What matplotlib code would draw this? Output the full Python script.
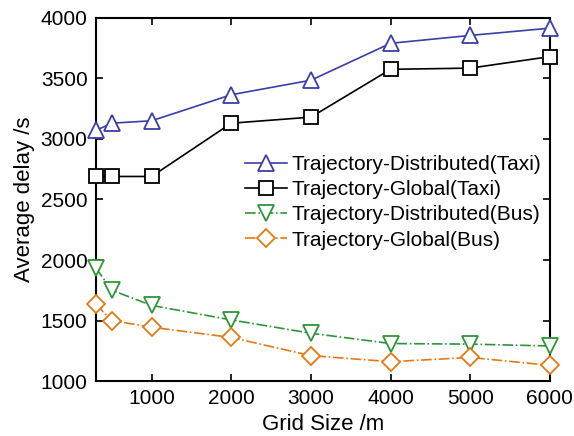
import matplotlib
matplotlib.use("Agg")
import matplotlib.pyplot as plt

# Donnees
grid_size = [300, 500, 1000, 2000, 3000, 4000, 5000, 6000]
dist_taxi = [3070, 3130, 3150, 3365, 3485, 3790, 3855, 3915]
global_taxi = [2690, 2690, 2690, 3130, 3180, 3575, 3585, 3680]
dist_bus = [1935, 1750, 1625, 1505, 1395, 1310, 1305, 1290]
global_bus = [1635, 1500, 1445, 1360, 1210, 1160, 1195, 1130]

x_ticks = [1000, 2000, 3000, 4000, 5000, 6000]
y_ticks = [1000, 1500, 2000, 2500, 3000, 3500, 4000]

plt.rcParams["font.family"] = ["Liberation Sans", "DejaVu Sans"]

fig = plt.figure(figsize=(5.74, 4.36), dpi=100)
ax = fig.add_axes([0.167, 0.126, 0.791, 0.833])

style = dict(mfc="white", mew=1.3, lw=1.2, clip_on=False, zorder=3)
ax.plot(grid_size, dist_taxi, "-", color="#3a3fa6", marker="^", ms=12,
        mec="#3a3fa6", label="Trajectory-Distributed(Taxi)", **style)
ax.plot(grid_size, global_taxi, "-", color="black", marker="s", ms=10,
        mec="black", label="Trajectory-Global(Taxi)", **style)
ax.plot(grid_size, dist_bus, "-.", color="#2e9438", marker="v", ms=12,
        mec="#2e9438", label="Trajectory-Distributed(Bus)", **style)
ax.plot(grid_size, global_bus, "-.", color="#e57a10", marker="D", ms=9,
        mec="#e57a10", label="Trajectory-Global(Bus)", **style)

ax.set_xlim(300, 6000)
ax.set_ylim(1000, 4000)
ax.set_xticks(x_ticks)
ax.set_yticks(y_ticks)
ax.tick_params(direction="in", top=True, right=True, labelsize=15,
               length=5, width=1.2, pad=6)
for s in ax.spines.values():
    s.set_linewidth(1.5)

ax.set_xlabel("Grid Size /m", fontsize=16, labelpad=4)
ax.set_ylabel("Average delay /s", fontsize=16, labelpad=4)

ax.legend(loc="upper left", bbox_to_anchor=(245 / 574, 1 - 155 / 436),
          bbox_transform=fig.transFigure, frameon=False,
          fontsize=15, handlelength=2.0, labelspacing=0.3,
          handletextpad=0.25, borderpad=0, borderaxespad=0)

fig.savefig("out.png", dpi=100)
